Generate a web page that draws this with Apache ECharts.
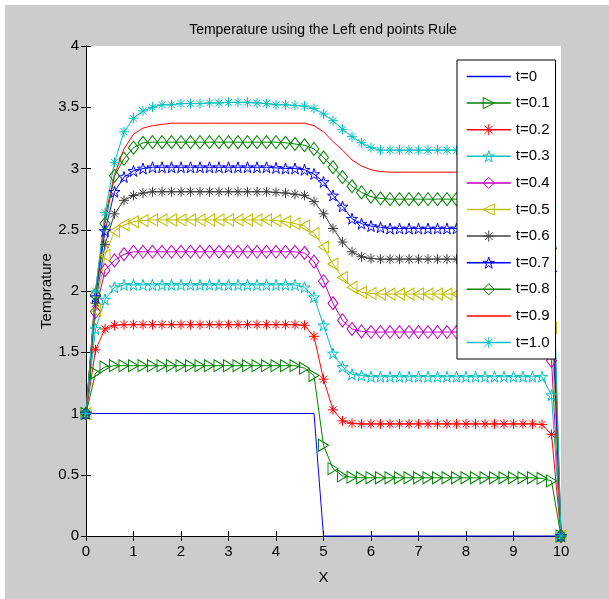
<!DOCTYPE html>
<html>
<head>
<meta charset="utf-8">
<script src="https://cdn.jsdelivr.net/npm/echarts@6/dist/echarts.min.js"></script>
<style>
    html, body { margin: 0; padding: 0; background: #fff; }
    #chartmain { position: absolute; left: 5px; top: 5px; width: 604px; height: 594px; }
</style>
</head>
<body>
<div id="chartmain"></div>
<script>
// x grid points (step 0.2 from 0 to 10)
var xs = [0, 0.2, 0.4, 0.6, 0.8, 1, 1.2, 1.4, 1.6, 1.8,
    2, 2.2, 2.4, 2.6, 2.8, 3, 3.2, 3.4, 3.6, 3.8,
    4, 4.2, 4.4, 4.6, 4.8, 5, 5.2, 5.4, 5.6, 5.8,
    6, 6.2, 6.4, 6.6, 6.8, 7, 7.2, 7.4, 7.6, 7.8,
    8, 8.2, 8.4, 8.6, 8.8, 9, 9.2, 9.4, 9.6, 9.8, 10];

var names = ['t=0', 't=0.1', 't=0.2', 't=0.3', 't=0.4', 't=0.5', 't=0.6', 't=0.7', 't=0.8', 't=0.9', 't=1.0'];

var t00 = [1, 1, 1, 1, 1, 1, 1, 1, 1, 1,
    1, 1, 1, 1, 1, 1, 1, 1, 1, 1,
    1, 1, 1, 1, 1, 0, 0, 0, 0, 0,
    0, 0, 0, 0, 0, 0, 0, 0, 0, 0,
    0, 0, 0, 0, 0, 0, 0, 0, 0, 0, 0];
var t01 = [1, 1.33, 1.38, 1.39, 1.39, 1.39, 1.39, 1.39, 1.39, 1.39,
    1.39, 1.39, 1.39, 1.39, 1.39, 1.39, 1.39, 1.39, 1.39, 1.39,
    1.39, 1.39, 1.39, 1.37, 1.31, 0.74, 0.55, 0.49, 0.48, 0.475,
    0.475, 0.475, 0.475, 0.475, 0.475, 0.475, 0.475, 0.475, 0.475, 0.475,
    0.475, 0.475, 0.475, 0.475, 0.475, 0.475, 0.475, 0.475, 0.47, 0.45, 0];
var t02 = [1, 1.52, 1.69, 1.72, 1.725, 1.725, 1.725, 1.725, 1.725, 1.725,
    1.725, 1.725, 1.725, 1.725, 1.725, 1.725, 1.725, 1.725, 1.725, 1.725,
    1.725, 1.725, 1.725, 1.72, 1.63, 1.28, 1.03, 0.94, 0.92, 0.915,
    0.915, 0.915, 0.915, 0.915, 0.915, 0.915, 0.915, 0.915, 0.915, 0.915,
    0.915, 0.915, 0.915, 0.915, 0.915, 0.915, 0.915, 0.915, 0.91, 0.83, 0];
var t03 = [1, 1.69, 1.93, 2.03, 2.05, 2.05, 2.05, 2.05, 2.05, 2.05,
    2.05, 2.05, 2.05, 2.05, 2.05, 2.05, 2.05, 2.05, 2.05, 2.05,
    2.05, 2.05, 2.05, 2.03, 1.95, 1.72, 1.49, 1.38, 1.32, 1.31,
    1.30, 1.30, 1.30, 1.30, 1.30, 1.30, 1.30, 1.30, 1.30, 1.30,
    1.30, 1.30, 1.30, 1.30, 1.30, 1.30, 1.30, 1.30, 1.30, 1.15, 0];
var t04 = [1, 1.83, 2.17, 2.25, 2.30, 2.32, 2.32, 2.32, 2.32, 2.32,
    2.32, 2.32, 2.32, 2.32, 2.32, 2.32, 2.32, 2.32, 2.32, 2.32,
    2.32, 2.32, 2.32, 2.31, 2.24, 2.08, 1.90, 1.76, 1.69, 1.67,
    1.665, 1.665, 1.665, 1.665, 1.665, 1.665, 1.665, 1.665, 1.665, 1.665,
    1.665, 1.665, 1.665, 1.665, 1.665, 1.665, 1.665, 1.665, 1.665, 1.43, 0];
var t05 = [1, 1.84, 2.29, 2.49, 2.54, 2.565, 2.575, 2.58, 2.58, 2.58,
    2.58, 2.58, 2.58, 2.58, 2.58, 2.58, 2.58, 2.58, 2.58, 2.58,
    2.575, 2.565, 2.55, 2.53, 2.47, 2.36, 2.22, 2.11, 2.03, 1.99,
    1.98, 1.975, 1.975, 1.975, 1.975, 1.975, 1.975, 1.975, 1.975, 1.975,
    1.975, 1.975, 1.975, 1.975, 1.975, 1.975, 1.975, 1.975, 1.975, 1.70, 0];
var t06 = [1, 1.90, 2.38, 2.63, 2.74, 2.78, 2.80, 2.81, 2.81, 2.81,
    2.81, 2.81, 2.81, 2.81, 2.81, 2.81, 2.81, 2.81, 2.81, 2.81,
    2.805, 2.80, 2.79, 2.78, 2.73, 2.63, 2.51, 2.40, 2.32, 2.28,
    2.265, 2.26, 2.26, 2.26, 2.26, 2.26, 2.26, 2.26, 2.26, 2.26,
    2.26, 2.26, 2.26, 2.26, 2.26, 2.26, 2.26, 2.26, 2.26, 1.95, 0];
var t07 = [1, 1.95, 2.49, 2.81, 2.93, 2.98, 3.00, 3.01, 3.01, 3.01,
    3.01, 3.01, 3.01, 3.01, 3.01, 3.01, 3.01, 3.01, 3.01, 3.01,
    3.005, 3.00, 3.00, 2.99, 2.955, 2.89, 2.78, 2.69, 2.59, 2.55,
    2.53, 2.52, 2.51, 2.51, 2.51, 2.51, 2.51, 2.51, 2.51, 2.51,
    2.51, 2.51, 2.51, 2.51, 2.51, 2.51, 2.51, 2.51, 2.51, 2.15, 0];
var t08 = [1, 1.97, 2.55, 2.94, 3.08, 3.17, 3.21, 3.215, 3.215, 3.215,
    3.215, 3.215, 3.215, 3.215, 3.215, 3.215, 3.215, 3.215, 3.215, 3.215,
    3.215, 3.21, 3.20, 3.19, 3.16, 3.09, 3.01, 2.93, 2.855, 2.805,
    2.77, 2.755, 2.75, 2.75, 2.75, 2.75, 2.75, 2.75, 2.75, 2.75,
    2.75, 2.75, 2.75, 2.75, 2.75, 2.75, 2.75, 2.75, 2.75, 2.35, 0];
var t09 = [1, 2.0, 2.60, 2.95, 3.16, 3.28, 3.33, 3.35, 3.36, 3.37,
    3.37, 3.37, 3.37, 3.37, 3.37, 3.37, 3.37, 3.37, 3.37, 3.37,
    3.37, 3.37, 3.37, 3.37, 3.35, 3.30, 3.22, 3.15, 3.07, 3.02,
    2.99, 2.975, 2.97, 2.97, 2.97, 2.97, 2.97, 2.97, 2.97, 2.97,
    2.97, 2.97, 2.97, 2.97, 2.97, 2.97, 2.97, 2.97, 2.97, 2.55, 0];
var t10 = [1, 2.0, 2.64, 3.05, 3.30, 3.41, 3.47, 3.50, 3.52, 3.52,
    3.53, 3.53, 3.53, 3.535, 3.535, 3.54, 3.54, 3.54, 3.535, 3.53,
    3.52, 3.52, 3.515, 3.51, 3.49, 3.445, 3.39, 3.32, 3.26, 3.21,
    3.17, 3.15, 3.15, 3.15, 3.15, 3.15, 3.15, 3.15, 3.15, 3.15,
    3.15, 3.15, 3.15, 3.15, 3.15, 3.15, 3.15, 3.15, 3.15, 2.70, 0];

var font = 'Liberation Sans';

// matlab style markers
var triRight = 'path://M0,0L10,6L0,12Z';
var triLeft = 'path://M10,0L0,6L10,12Z';
var aster = 'path://M5,0L5,10M0,5L10,5M1.5,1.5L8.5,8.5M1.5,8.5L8.5,1.5';
var penta = 'path://M5,0L6.123,3.455L9.755,3.455L6.817,5.59L7.939,9.045L5,6.91L2.061,9.045L3.183,5.59L0.245,3.455L3.877,3.455Z';
var diamond = 'path://M5,0L10,7L5,14L0,7Z';

function makeSeries(name, ys, color, symbol, size) {
    var data = [];
    for (var i = 0; i < xs.length; i++) {
        data.push([xs[i], ys[i]]);
    }
    return {
        name: name,
        type: 'line',
        data: data,
        symbol: symbol,
        symbolSize: size,
        clip: false,
        lineStyle: { color: color, width: 1 },
        itemStyle: { color: 'rgba(0,0,0,0)', borderColor: color, borderWidth: symbol === 'none' ? 0 : 1 },
        emphasis: { disabled: true }
    };
}

// plain lines get no marker in the legend
var legendData = names.map(function (n) {
    if (n === 't=0' || n === 't=0.9') {
        return { name: n, itemStyle: { borderWidth: 0 } };
    }
    return n;
});

var option = {
    animation: false,
    backgroundColor: '#cccccc',
    title: {
        text: 'Temperature using the Left end points Rule',
        left: 318,
        top: 18,
        padding: 0,
        textAlign: 'center',
        textStyle: { fontFamily: font, fontSize: 14, fontWeight: 'normal', color: '#000' }
    },
    legend: {
        data: legendData,
        orient: 'vertical',
        left: 452,
        top: 55,
        backgroundColor: '#fff',
        borderColor: '#000',
        borderWidth: 1,
        borderRadius: 0,
        padding: [9, 6, 9, 9],
        itemWidth: 44,
        itemHeight: 14,
        itemGap: 11.6,
        selectedMode: false,
        lineStyle: { width: 1.5 },
        itemStyle: { borderWidth: 1 },
        textStyle: { fontFamily: font, fontSize: 15, color: '#000' }
    },
    grid: { left: 81, right: 48, top: 41, bottom: 63, backgroundColor: '#fff', show: true, borderWidth: 0 },
    xAxis: [{
        type: 'value', min: 0, max: 10, interval: 1,
        name: 'X', nameLocation: 'middle', nameGap: 34, nameMoveOverlap: false,
        nameTextStyle: { fontFamily: font, fontSize: 15, color: '#000' },
        axisLine: { lineStyle: { color: '#000', width: 1 } },
        axisTick: { inside: true, length: 5, lineStyle: { color: '#000' } },
        axisLabel: { fontFamily: font, fontSize: 15, color: '#000', margin: 8 },
        splitLine: { show: false }
    }, {
        type: 'value', min: 0, max: 10, interval: 1, position: 'top',
        axisLine: { lineStyle: { color: '#000', width: 1 } },
        axisTick: { inside: true, length: 5, lineStyle: { color: '#000' } },
        axisLabel: { show: false },
        splitLine: { show: false }
    }],
    yAxis: [{
        type: 'value', min: 0, max: 4, interval: 0.5,
        name: 'Temprature', nameLocation: 'middle', nameGap: 32, nameMoveOverlap: false,
        nameTextStyle: { fontFamily: font, fontSize: 15, color: '#000' },
        axisLine: { show: true, lineStyle: { color: '#000', width: 1 } },
        axisTick: { show: true, inside: true, length: 5, lineStyle: { color: '#000' } },
        axisLabel: { fontFamily: font, fontSize: 15, color: '#000', margin: 7 },
        splitLine: { show: false }
    }, {
        type: 'value', min: 0, max: 4, interval: 0.5, position: 'right',
        axisLine: { show: true, lineStyle: { color: '#000', width: 1 } },
        axisTick: { show: true, inside: true, length: 5, lineStyle: { color: '#000' } },
        axisLabel: { show: false },
        splitLine: { show: false }
    }],
    series: [
        makeSeries('t=0', t00, '#0000ff', 'none', 0),
        makeSeries('t=0.1', t01, '#008000', triRight, [10, 12]),
        makeSeries('t=0.2', t02, '#ff0000', aster, 10),
        makeSeries('t=0.3', t03, '#00bfbf', penta, 11),
        makeSeries('t=0.4', t04, '#bf00bf', diamond, [10, 13]),
        makeSeries('t=0.5', t05, '#bfbf00', triLeft, [10, 12]),
        makeSeries('t=0.6', t06, '#404040', aster, 10),
        makeSeries('t=0.7', t07, '#0000ff', penta, 11),
        makeSeries('t=0.8', t08, '#008000', diamond, [10, 13]),
        makeSeries('t=0.9', t09, '#ff0000', 'none', 0),
        makeSeries('t=1.0', t10, '#00bfbf', aster, 10)
    ]
};

//初始化echarts实例
var myChart = echarts.init(document.getElementById('chartmain'));
myChart.setOption(option);
</script>
</body>
</html>
